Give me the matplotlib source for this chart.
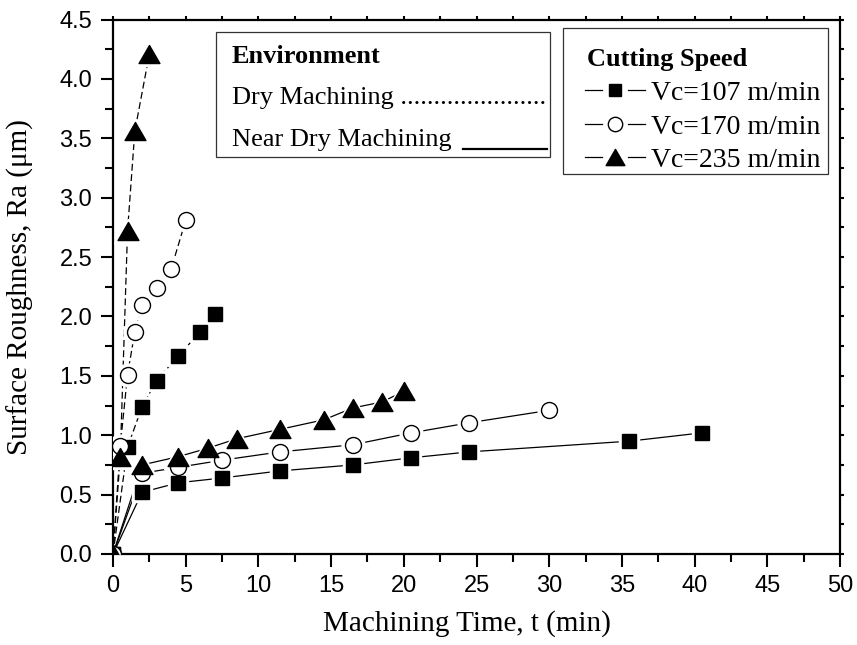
import matplotlib
matplotlib.use("Agg")
import matplotlib.pyplot as plt
from matplotlib.patches import Rectangle
from matplotlib.path import Path

# machining time (min) and surface roughness Ra (um)
# dry machining
t_dry_107 = [0, 1, 2, 3, 4.5, 6, 7]
ra_dry_107 = [0, 0.90, 1.24, 1.46, 1.67, 1.87, 2.02]
t_dry_170 = [0, 0.5, 1, 1.5, 2, 3, 4, 5]
ra_dry_170 = [0, 0.91, 1.51, 1.87, 2.10, 2.24, 2.40, 2.81]
t_dry_235 = [0, 0.5, 1, 1.5, 2.5]
ra_dry_235 = [0, 0.82, 2.72, 3.56, 4.21]

# near dry machining
t_nd_107 = [0, 2, 4.5, 7.5, 11.5, 16.5, 20.5, 24.5, 35.5, 40.5]
ra_nd_107 = [0, 0.52, 0.60, 0.64, 0.70, 0.75, 0.81, 0.86, 0.95, 1.02]
t_nd_170 = [0, 2, 4.5, 7.5, 11.5, 16.5, 20.5, 24.5, 30]
ra_nd_170 = [0, 0.68, 0.73, 0.79, 0.86, 0.92, 1.02, 1.105, 1.21]
t_nd_235 = [0, 2, 4.5, 6.5, 8.5, 11.5, 14.5, 16.5, 18.5, 20]
ra_nd_235 = [0, 0.75, 0.82, 0.89, 0.97, 1.05, 1.13, 1.23, 1.28, 1.37]

speed_labels = ["Vc=107 m/min", "Vc=170 m/min", "Vc=235 m/min"]

SERIF = "Liberation Serif"
SANS = "Liberation Sans"

tri = Path([(-1, -0.866), (1, -0.866), (0, 0.866), (-1, -0.866)],
           [Path.MOVETO, Path.LINETO, Path.LINETO, Path.CLOSEPOLY])
styles = {
    107: dict(marker="s", ms=10, mfc="black"),
    170: dict(marker="o", ms=11.5, mfc="white"),
    235: dict(marker=tri, ms=15, mfc="black"),
}

W, H = 857, 645
AX_L, AX_R, AX_T, AX_B = 113, 840, 19.6, 554

fig = plt.figure(figsize=(W / 100, H / 100), dpi=100)
ax = fig.add_axes([AX_L / W, (H - AX_B) / H, (AX_R - AX_L) / W, (AX_B - AX_T) / H])


def P(px, py):
    # pixel position -> axes fraction
    return (px - AX_L) / (AX_R - AX_L), (AX_B - py) / (AX_B - AX_T)


def draw(t, ra, st, dashed):
    ls = (0, (5.5, 2.8)) if dashed else "-"
    ax.plot(t, ra, color="black", lw=0.9, ls=ls, zorder=2)
    # white halo gives the gap between line and marker
    ax.plot(t[1:], ra[1:], ls="none", marker=st["marker"], ms=st["ms"] + 5,
            mfc="white", mec="white", zorder=3)
    ax.plot(t, ra, ls="none", marker=st["marker"], ms=st["ms"],
            mfc=st["mfc"], mec="black", mew=1.0, zorder=4)


draw(t_dry_107, ra_dry_107, styles[107], True)
draw(t_dry_170, ra_dry_170, styles[170], True)
draw(t_dry_235, ra_dry_235, styles[235], True)
draw(t_nd_107, ra_nd_107, styles[107], False)
draw(t_nd_170, ra_nd_170, styles[170], False)
draw(t_nd_235, ra_nd_235, styles[235], False)

ax.set_xlim(0, 50)
ax.set_ylim(0, 4.5)
ax.set_xticks(range(0, 51, 5))
ax.set_xticks([x + 2.5 for x in range(0, 50, 5)], minor=True)
ax.set_yticks([i * 0.5 for i in range(10)])
ax.set_yticks([i * 0.5 + 0.25 for i in range(9)], minor=True)
ax.set_yticklabels(["%.1f" % (i * 0.5) for i in range(10)])

for s in ax.spines.values():
    s.set_linewidth(1.6)
ax.tick_params(which="both", direction="out", width=1.5, top=True, right=True)
ax.tick_params(which="major", length=9, pad=6, labelsize=17)
ax.tick_params(which="minor", length=5.5)
for axis in (ax.xaxis, ax.yaxis):
    for tk in axis.get_major_ticks() + axis.get_minor_ticks():
        tk.tick2line.set_markersize(3)
for lab in ax.get_xticklabels() + ax.get_yticklabels():
    lab.set_fontfamily(SANS)

ax.set_xlabel("Machining Time, t (min)", fontfamily=SERIF, fontsize=21)
ax.set_ylabel("Surface Roughness, Ra (\u03bcm)", fontfamily=SERIF, fontsize=21)
ax.xaxis.set_label_coords(P(467, 0)[0], P(0, 610)[1])
ax.yaxis.set_label_coords(P(34, 0)[0], 0.5)

# Environment box
x0, y0 = P(216, 157)
x1, y1 = P(550, 32)
ax.add_patch(Rectangle((x0, y0), x1 - x0, y1 - y0, transform=ax.transAxes,
                       fill=False, ec="#333333", lw=0.9, zorder=5, clip_on=False))
ax.text(*P(232, 63), "Environment", transform=ax.transAxes, fontfamily=SERIF,
        fontweight="bold", fontsize=19, va="baseline", zorder=6)
ax.text(*P(232, 104), "Dry Machining " + "." * 22, transform=ax.transAxes,
        fontfamily=SERIF, fontsize=19, va="baseline", zorder=6)
ax.text(*P(232, 146), "Near Dry Machining", transform=ax.transAxes,
        fontfamily=SERIF, fontsize=19, va="baseline", zorder=6)
ua, ub = P(463, 149), P(547, 149)
ax.plot([ua[0], ub[0]], [ua[1], ub[1]], color="black", lw=1.6,
        transform=ax.transAxes, clip_on=False, zorder=6)

# Cutting speed legend
x0, y0 = P(563, 174)
x1, y1 = P(828, 28)
ax.add_patch(Rectangle((x0, y0), x1 - x0, y1 - y0, transform=ax.transAxes,
                       fill=False, ec="#333333", lw=0.9, zorder=5, clip_on=False))
ax.text(*P(587, 66), "Cutting Speed", transform=ax.transAxes, fontfamily=SERIF,
        fontweight="bold", fontsize=19, va="baseline", zorder=6)
for i, (lab, key) in enumerate(zip(speed_labels, [107, 170, 235])):
    base = 100 + 33.5 * i
    st = styles[key]
    for xa, xb in ((585, 602), (628, 645)):
        pa, pb = P(xa, base - 10), P(xb, base - 10)
        ax.plot([pa[0], pb[0]], [pa[1], pb[1]], color="black", lw=0.9,
                transform=ax.transAxes, clip_on=False, zorder=6)
    pm = P(615, base - 10)
    ax.plot([pm[0]], [pm[1]], ls="none", marker=st["marker"], ms=st["ms"] * 0.9,
            mfc=st["mfc"], mec="black", mew=1.0, transform=ax.transAxes,
            clip_on=False, zorder=6)
    ax.text(*P(651, base), lab, transform=ax.transAxes, fontfamily=SERIF,
            fontsize=20, va="baseline", zorder=6)

fig.savefig("out.png", dpi=100)
